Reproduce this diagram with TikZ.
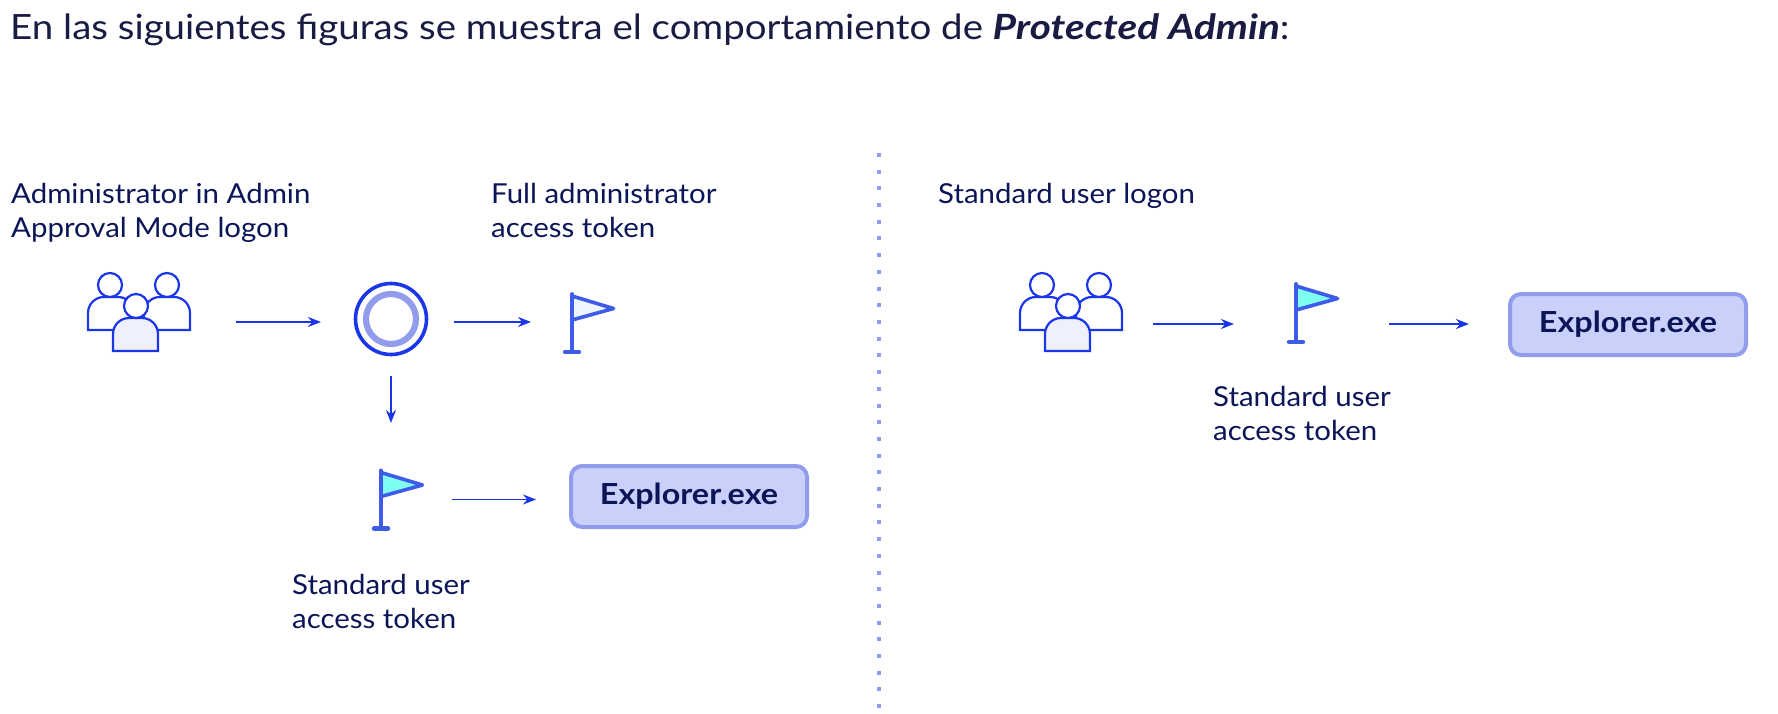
\documentclass[tikz,border=0pt]{standalone}
\usepackage{fontspec}
\setmainfont{Lato}
\newfontfamily\titleface{Lato}[FakeStretch=1.105]
\newfontfamily\titleemph{Lato}[FakeStretch=1.165]
\newfontfamily\labelface{Lato}[FakeStretch=1.07]
\newfontfamily\boxface{Lato}[FakeStretch=1.115]
\usetikzlibrary{arrows.meta}
\definecolor{ink}{HTML}{0B1557}
\definecolor{titleink}{HTML}{1A1B42}
\definecolor{wire}{HTML}{1A36E8}
\definecolor{flagline}{HTML}{3F5BEA}
\definecolor{ringsoft}{HTML}{919DEC}
\definecolor{boxfill}{HTML}{C9D0FA}
\definecolor{personfill}{HTML}{EEF1FD}
\definecolor{flagpale}{HTML}{EEF5FF}
\definecolor{flagcyan}{HTML}{7FFFEF}
\tikzset{
  x=1pt,y=-1pt,
  label text/.style={anchor=base west,inner sep=0pt,align=left,text=ink,font=\labelface\fontsize{27.5}{33.5}\selectfont},
  title text/.style={anchor=base west,inner sep=0pt,text=titleink,font=\titleface\fontsize{34.8}{40}\selectfont},
  exe box/.style={draw=ringsoft,fill=boxfill,line width=4pt,rounded corners=11pt,minimum width=236pt,minimum height=61pt,inner sep=0pt,text=ink,font=\boxface\fontsize{29}{34}\selectfont\bfseries},
  icon box/.style={inner sep=0pt,outer sep=0pt,draw=none},
  flow/.style={draw=wire,line width=1.8pt,-{Stealth[length=13pt,width=10pt]}},
  person/.style={draw=wire,line width=2.2pt,line join=miter},
  peopleicon/.pic={
    \draw[person,fill=white] (1,58)--(1,41) arc[start angle=180,end angle=270,radius=16] -- (31,25) arc[start angle=270,end angle=360,radius=16] -- (47,58) -- cycle;
    \draw[person,fill=white] (57,58)--(57,41) arc[start angle=180,end angle=270,radius=16] -- (87,25) arc[start angle=270,end angle=360,radius=16] -- (103,58) -- cycle;
    \draw[person,fill=white] (23,13) circle[radius=12];
    \draw[person,fill=white] (80,13) circle[radius=12];
    \draw[person,fill=personfill] (26,79)--(26,62) arc[start angle=180,end angle=270,radius=16] -- (55,46) arc[start angle=270,end angle=360,radius=16] -- (71,79) -- cycle;
    \draw[person,fill=white] (49,34) circle[radius=12];
  },
  flagicon/.pic={
    \draw[draw=flagline,fill=#1,line width=3.6pt,line join=round] (0,3)--(41.5,15.5)--(0,27)--cycle;
    \draw[draw=flagline,line width=3.8pt,line cap=round] (0,1)--(0,59);
    \draw[draw=flagline,line width=4.4pt,line cap=round] (-7,59)--(7,59);
  },
  flagicon/.default=white
}
\begin{document}
\begin{tikzpicture}
\useasboundingbox (0,0) rectangle (1778,714);
\fill[white] (0,0) rectangle (1778,714);

\node[title text] (title) at (10,40) {En las siguientes figuras se muestra el comportamiento de {\titleemph\bfseries\itshape Protected Admin}:};

% left panel
\node[label text] (adminlabel) at (11,237.5) {Administrator in Admin\\Approval Mode logon};
\node[label text] (fulllabel) at (491,237.5) {Full administrator\\access token};
\node[label text] (stdlabela) at (292,628) {Standard user\\access token};

\pic at (87,272) {peopleicon};
\node[icon box,minimum width=103pt,minimum height=80pt] (peoplea) at (138.5,312) {};
\node[circle,draw=wire,line width=3.6pt,minimum size=71pt,inner sep=0pt] (hub) at (391,319) {};
\node[circle,draw=ringsoft,line width=6.2pt,minimum size=50pt,inner sep=0pt] (hubring) at (391,319) {};
\pic at (572,293) {flagicon={flagpale}};
\node[icon box,minimum width=44pt,minimum height=60pt] (flagfull) at (593.5,322) {};
\pic at (381,469.5) {flagicon={flagcyan}};
\node[icon box,minimum width=44pt,minimum height=60pt] (flagstda) at (402.5,499.5) {};
\node[exe box] (exea) at (689,496.5) {Explorer.exe};

\draw[flow] ([xshift=46pt,yshift=-10pt]peoplea.east) -- ([xshift=-32.7pt,yshift=-3pt]hub.west);
\draw[flow] ([xshift=25.7pt,yshift=-3pt]hub.east) -- ([xshift=-40.5pt]flagfull.west);
\draw[flow] ([yshift=-19.7pt]hub.south) -- ([yshift=46.5pt]flagstda.north -| hub.south);
\draw[flow] ([xshift=27.5pt]flagstda.east) -- ([xshift=-33pt,yshift=-3pt]exea.west);

% separator
\draw[ringsoft,line width=4pt,dash pattern=on 4pt off 12.7pt] (879,153) -- (879,708);

% right panel
\node[label text] (stdlogon) at (938,204) {Standard user logon};
\node[label text] (stdlabelb) at (1213,440) {Standard user\\access token};
\pic at (1019,272) {peopleicon};
\node[icon box,minimum width=103pt,minimum height=80pt] (peopleb) at (1070.5,312) {};
\pic at (1296,283) {flagicon={flagcyan}};
\node[icon box,minimum width=44pt,minimum height=60pt] (flagstdb) at (1317.5,313) {};
\node[exe box] (exeb) at (1628,324.5) {Explorer.exe};

\draw[flow] ([xshift=31pt,yshift=-12pt]peopleb.east) -- ([xshift=-61.5pt,yshift=-11pt]flagstdb.west);
\draw[flow] ([xshift=49.5pt,yshift=-11pt]flagstdb.east) -- ([xshift=-39pt,yshift=0.5pt]exeb.west);
\end{tikzpicture}
\end{document}
